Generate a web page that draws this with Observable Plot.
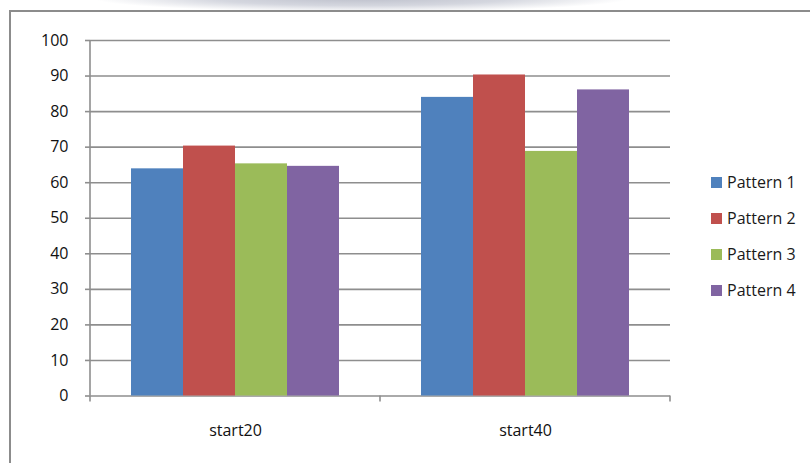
<!DOCTYPE html>
<html><head><meta charset="utf-8">
<script src="https://cdn.jsdelivr.net/npm/d3@7"></script>
<script src="https://cdn.jsdelivr.net/npm/@observablehq/plot@0.6"></script>
<style>
html,body{margin:0;padding:0;background:#fff;width:810px;height:463px;overflow:hidden;position:relative;font-family:"Open Sans",sans-serif;}
#frame{position:absolute;left:9px;top:10px;width:900px;height:500px;border:2px solid #8c8c8c;box-sizing:border-box;}
#glow{position:absolute;left:70px;top:-16px;width:560px;height:28px;background:radial-gradient(ellipse closest-side at 52% 50%, rgba(185,188,200,0.95) 0%, rgba(198,201,212,0.75) 55%, rgba(255,255,255,0) 100%);}
#chart{position:absolute;left:0;top:0;}
#legend{position:absolute;left:711px;top:164px;font-family:"Open Sans",sans-serif;font-size:16px;color:#1a1a1a;}
#legend .row{height:36px;display:flex;align-items:center;}
#legend .sw{width:11px;height:11px;margin-right:5px;}
</style></head>
<body>
<div id="glow"></div>
<div id="frame"></div>
<div id="chart"></div>
<div id="legend"></div>
<script>
const categories = ["start20", "start40"];
const series = ["Pattern 1", "Pattern 2", "Pattern 3", "Pattern 4"];
const pattern1 = [63.9, 84.0];
const pattern2 = [70.3, 90.3];
const pattern3 = [65.3, 68.8];
const pattern4 = [64.6, 86.1];
const colors = ["#4F81BD", "#C0504D", "#9BBB59", "#8064A2"];
const yTicks = [0, 10, 20, 30, 40, 50, 60, 70, 80, 90, 100];

const data = [];
[pattern1, pattern2, pattern3, pattern4].forEach((vals, i) =>
  vals.forEach((v, j) => data.push({category: categories[j], series: series[i], value: v})));

const grid = "#8e8e8e";
const plot = Plot.plot({
  width: 810, height: 463,
  marginLeft: 90, marginRight: 140, marginTop: 40, marginBottom: 67.5,
  style: {fontFamily: "'Open Sans', sans-serif", fontSize: "15px", color: "#111", background: "transparent"},
  fx: {domain: categories, padding: 0, label: null},
  x: {domain: series, paddingInner: 0, paddingOuter: 0.76, axis: null},
  y: {domain: [0, 100], label: null},
  color: {domain: series, range: colors},
  marks: [
    Plot.ruleY(yTicks, {stroke: grid, strokeWidth: 1.6}),
    Plot.barY(data, {fx: "category", x: "series", y: "value", fill: "series", inset: 0}),
    Plot.axisY(yTicks, {tickSize: 5, tickPadding: 17, stroke: grid, strokeWidth: 1.6, fill: "#111", fontSize: 16, label: null}),
    Plot.axisFx({anchor: "bottom", tickSize: 0, tickPadding: 29, fill: "#111", fontSize: 16, label: null})
  ]
});
document.getElementById("chart").appendChild(plot);

// axis line and category boundary ticks from the library's scales
const fx = plot.scale("fx"), y = plot.scale("y");
const svg = d3.select(plot);
const x0 = fx.apply(categories[0]);
const bounds = categories.map(c => fx.apply(c)).concat([fx.apply(categories[categories.length - 1]) + fx.bandwidth]);
const g = svg.append("g").attr("stroke", grid).attr("stroke-width", 1.6);
g.append("line").attr("x1", x0).attr("x2", x0).attr("y1", y.apply(100)).attr("y2", y.apply(0));
bounds.forEach(b => g.append("line").attr("x1", b).attr("x2", b).attr("y1", y.apply(0)).attr("y2", y.apply(0) + 6));

const legend = d3.select("#legend");
series.forEach((s, i) => {
  const row = legend.append("div").attr("class", "row");
  row.append("div").attr("class", "sw").style("background", colors[i]);
  row.append("span").text(s);
});
</script>
</body></html>
